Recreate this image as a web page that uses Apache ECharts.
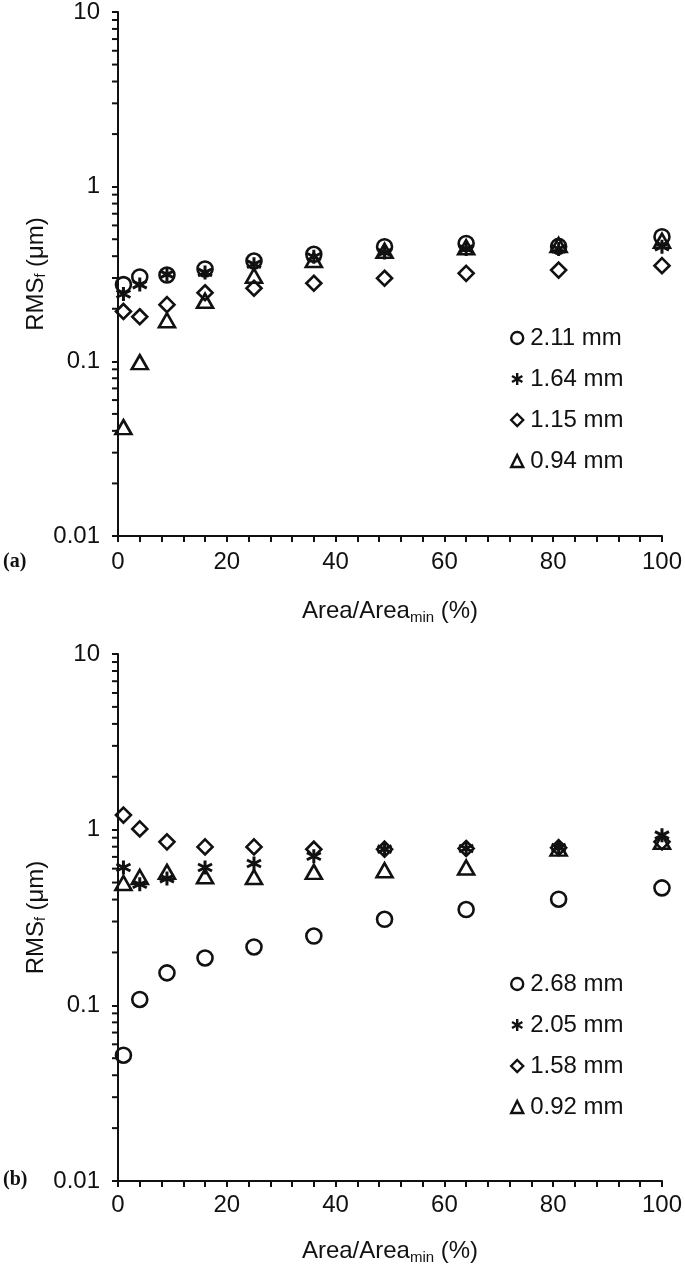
<!DOCTYPE html>
<html>
<head>
<meta charset="utf-8">
<script src="https://cdn.jsdelivr.net/npm/echarts@6/dist/echarts.min.js"></script>
<style>
  html, body { margin: 0; padding: 0; background: #fff; }
  #chart { width: 685px; height: 1269px; }
</style>
</head>
<body>
<div id="chart"></div>
<script>
// ---- data ----
const xValues = [1, 4, 9, 16, 25, 36, 49, 64, 81, 100];

// panel (a)
const namesA = ['2.11 mm', '1.64 mm', '1.15 mm', '0.94 mm'];
const a_211 = [0.275, 0.304, 0.312, 0.338, 0.375, 0.41, 0.453, 0.473, 0.455, 0.517];
const a_164 = [0.243, 0.275, 0.315, 0.323, 0.36, 0.397, 0.42, 0.44, 0.44, 0.453];
const a_115 = [0.193, 0.180, 0.211, 0.247, 0.262, 0.280, 0.299, 0.319, 0.333, 0.353];
const a_094 = [0.042, 0.099, 0.172, 0.222, 0.309, 0.380, 0.43, 0.45, 0.463, 0.49];

// panel (b)
const namesB = ['2.68 mm', '2.05 mm', '1.58 mm', '0.92 mm'];
const b_268 = [0.052, 0.108, 0.153, 0.186, 0.215, 0.248, 0.309, 0.351, 0.402, 0.466];
const b_205 = [0.609, 0.489, 0.527, 0.609, 0.642, 0.706, 0.774, 0.781, 0.79, 0.93];
const b_158 = [1.21, 1.01, 0.853, 0.798, 0.798, 0.774, 0.774, 0.781, 0.79, 0.853];
const b_092 = [0.497, 0.538, 0.575, 0.543, 0.538, 0.575, 0.588, 0.609, 0.78, 0.853];

// axis ticks
const xTicks = { min: 0, max: 100, interval: 20 };
const yTicks = { min: 0.01, max: 10 };
const yMinorMultipliers = [2, 3, 4, 5, 6, 7, 8, 9];
const yDecades = [0.01, 0.1, 1];

// ---- rendering ----
const FONT = "'Liberation Sans', Arial, sans-serif";
const INK = '#111111';
const minorTickValues = [];
yDecades.forEach(d => yMinorMultipliers.forEach(m => minorTickValues.push(+(d * m).toPrecision(2))));

const symbols = {
  circle: 'circle',
  star: 'path://M5,0L5,10M0.67,2.5L9.33,7.5M0.67,7.5L9.33,2.5',
  diamond: 'diamond',
  triangle: 'triangle'
};
const symbolSizes = { circle: 15, star: 14, diamond: 15, triangle: [16, 14] };
const order = ['circle', 'star', 'diamond', 'triangle'];

const grids = [
  { left: 118, top: 9, width: 548, height: 527 },
  { left: 118, top: 654, width: 548, height: 527 }
];

function xAxis(idx, nameGap, labelMargin) {
  return {
    type: 'value', gridIndex: idx,
    min: xTicks.min, max: xTicks.max, interval: xTicks.interval,
    name: '{t|Area/Area}{s|min}{t| (%)}',
    nameLocation: 'middle', nameGap: nameGap, nameMoveOverlap: false,
    nameTextStyle: {
      rich: {
        t: { fontFamily: FONT, fontSize: 24, color: INK },
        s: { fontFamily: FONT, fontSize: 15, color: INK, verticalAlign: 'bottom', padding: [12, 0, 0, 0] }
      }
    },
    axisLine: { show: true, onZero: false, lineStyle: { color: INK, width: 2 } },
    axisTick: { show: true, length: 6, lineStyle: { color: INK, width: 2 } },
    minorTick: { show: true, splitNumber: 5, length: 6, lineStyle: { color: INK, width: 2 } },
    axisLabel: { fontFamily: FONT, fontSize: 24, color: INK, margin: labelMargin },
    splitLine: { show: false },
    minorSplitLine: { show: false }
  };
}

function yAxis(idx) {
  return {
    type: 'log', logBase: 10, gridIndex: idx,
    min: yTicks.min, max: yTicks.max,
    name: '{t|RMS}{s|f}{t| (μm)}',
    nameLocation: 'middle', nameGap: 70, nameRotate: 90, nameMoveOverlap: false,
    nameTextStyle: {
      rich: {
        t: { fontFamily: FONT, fontSize: 24, color: INK },
        s: { fontFamily: FONT, fontSize: 14, color: INK, verticalAlign: 'bottom', padding: [10, 0, 0, 0] }
      }
    },
    axisLine: { show: true, onZero: false, lineStyle: { color: INK, width: 2 } },
    axisTick: { show: true, length: 6, lineStyle: { color: INK, width: 2 } },
    axisLabel: {
      fontFamily: FONT, fontSize: 24, color: INK, margin: 18,
      formatter: v => String(+(+v).toPrecision(1))
    },
    splitLine: { show: false }
  };
}

function scatterSeries(name, data, shape, gi) {
  return {
    type: 'scatter', name: name,
    xAxisIndex: gi, yAxisIndex: gi,
    data: xValues.map((x, i) => [x, data[i]]),
    symbol: symbols[shape], symbolSize: symbolSizes[shape],
    itemStyle: {
      color: 'rgba(0,0,0,0)', borderColor: INK,
      borderWidth: shape === 'star' ? 3 : 2.6, opacity: 1
    },
    emphasis: { disabled: true },
    z: 3
  };
}

function minorTickSeries(gi) {
  return {
    type: 'custom', xAxisIndex: gi, yAxisIndex: gi,
    data: minorTickValues.map(v => [xTicks.min, v]),
    silent: true, clip: false,
    renderItem: function (params, api) {
      const p = api.coord([api.value(0), api.value(1)]);
      return {
        type: 'line',
        shape: { x1: p[0] - 6, y1: p[1], x2: p[0], y2: p[1] },
        style: { stroke: INK, lineWidth: 2 }
      };
    },
    z: 1
  };
}

function legend(names, top) {
  return {
    data: names, orient: 'vertical', left: 505, top: top,
    itemWidth: 12, itemHeight: 12, itemGap: 17,
    selectedMode: false,
    itemStyle: { borderWidth: 2.4, opacity: 1 },
    textStyle: { fontFamily: FONT, fontSize: 24, color: INK, padding: [0, 0, 0, 2] }
  };
}

const seriesA = [a_211, a_164, a_115, a_094];
const seriesB = [b_268, b_205, b_158, b_092];

const option = {
  animation: false,
  backgroundColor: '#fff',
  grid: grids,
  xAxis: [xAxis(0, 62, 14), xAxis(1, 57, 12)],
  yAxis: [yAxis(0), yAxis(1)],
  legend: [legend(namesA, 321), legend(namesB, 967)],
  series: [
    ...seriesA.map((d, i) => scatterSeries(namesA[i], d, order[i], 0)),
    ...seriesB.map((d, i) => scatterSeries(namesB[i], d, order[i], 1)),
    minorTickSeries(0), minorTickSeries(1)
  ],
  graphic: [
    { type: 'text', left: 3, top: 552, style: { text: '(a)', font: "bold 20px 'Liberation Serif', serif", fill: INK } },
    { type: 'text', left: 3, top: 1170, style: { text: '(b)', font: "bold 20px 'Liberation Serif', serif", fill: INK } }
  ]
};

const chart = echarts.init(document.getElementById('chart'), null, { renderer: 'canvas' });
chart.setOption(option);
</script>
</body>
</html>
